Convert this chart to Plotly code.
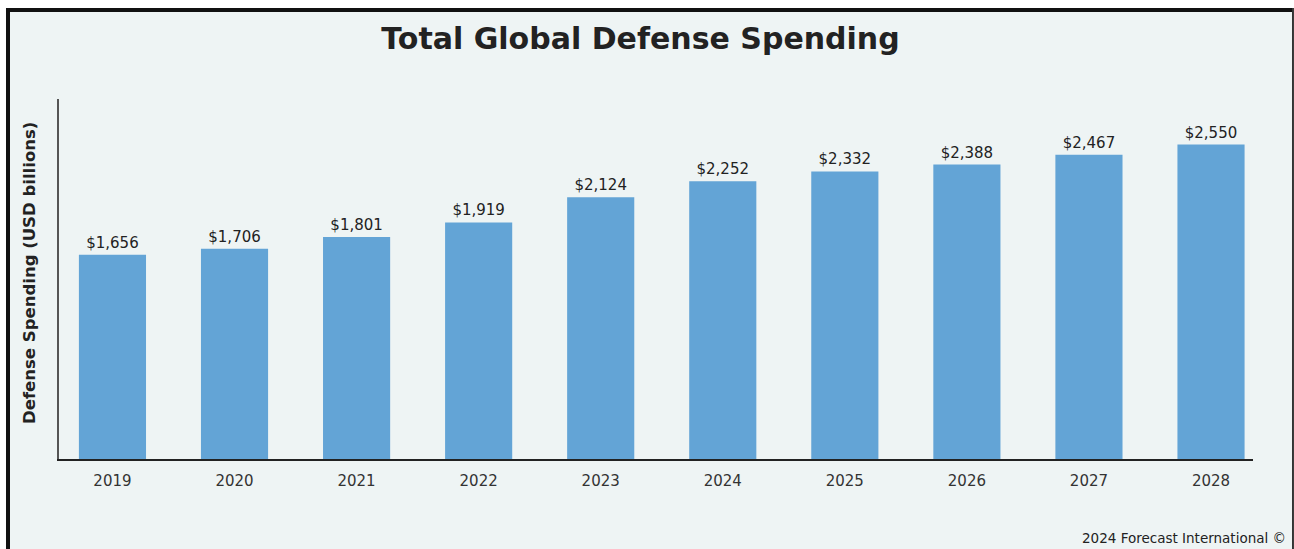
import plotly.graph_objects as go

years = ["2019", "2020", "2021", "2022", "2023", "2024", "2025", "2026", "2027", "2028"]
spending = [1656, 1706, 1801, 1919, 2124, 2252, 2332, 2388, 2467, 2550]
labels = ["$1,656", "$1,706", "$1,801", "$1,919", "$2,124", "$2,252", "$2,332", "$2,388", "$2,467", "$2,550"]

FONT = "DejaVu Sans"
BG = "#EEF4F4"

fig = go.Figure(go.Bar(
    x=years, y=spending, text=labels, textposition="outside",
    textfont=dict(family=FONT, size=15, color="#222222"),
    marker=dict(color="#63A4D6", line=dict(width=0)),
    width=0.55, cliponaxis=False, hoverinfo="skip",
))

fig.update_layout(
    width=1294, height=549,
    margin=dict(l=59, r=41, t=99, b=90),
    paper_bgcolor=BG, plot_bgcolor=BG,
    showlegend=False,
    title=dict(text="<b>Total Global Defense Spending</b>", xref="container", x=0.495,
               xanchor="center", yref="container", y=0.93, yanchor="middle",
               font=dict(family=FONT, size=30, color="#222222")),
    xaxis=dict(type="category", range=[-0.438, 9.344], showline=True, linecolor="#222222",
               linewidth=1.5, showgrid=False, ticks="", ticklabelstandoff=7,
               tickfont=dict(family=FONT, size=15, color="#333333"), fixedrange=True),
    yaxis=dict(range=[0, 2920], showline=True, linecolor="#555555", linewidth=2,
               showgrid=False, zeroline=False, showticklabels=False, ticks="", fixedrange=True),
    annotations=[
        dict(text="<b>Defense Spending (USD billions)</b>", xref="paper", yref="paper",
             x=-0.0243, y=0.5167, textangle=-90, showarrow=False, xanchor="center", yanchor="middle",
             font=dict(family=FONT, size=16.5, color="#222222")),
        dict(text="2024 Forecast International ©", xref="paper", yref="paper",
             x=1.0293, y=-0.2194, showarrow=False, xanchor="right", yanchor="middle",
             font=dict(family=FONT, size=13.5, color="#222222")),
    ],
    shapes=[
        dict(type="rect", xref="paper", yref="paper", x0=-0.06, x1=1.05, y0=1.2528, y1=1.3,
             fillcolor="white", line=dict(width=0), layer="below"),
        dict(type="rect", xref="paper", yref="paper", x0=-0.06, x1=-0.04439, y0=-0.3, y1=1.3,
             fillcolor="white", line=dict(width=0), layer="below"),
        dict(type="rect", xref="paper", yref="paper", x0=-0.04439, x1=1.0335, y0=1.24167, y1=1.25278,
             fillcolor="#111111", line=dict(width=0), layer="below"),
        dict(type="rect", xref="paper", yref="paper", x0=-0.04439, x1=-0.04104, y0=-0.3, y1=1.2528,
             fillcolor="#111111", line=dict(width=0), layer="below"),
        dict(type="rect", xref="paper", yref="paper", x0=1.03266, x1=1.0343, y0=-0.3, y1=1.2528,
             fillcolor="#333333", line=dict(width=0), layer="below"),
    ],
)

fig.write_html("out.html")
